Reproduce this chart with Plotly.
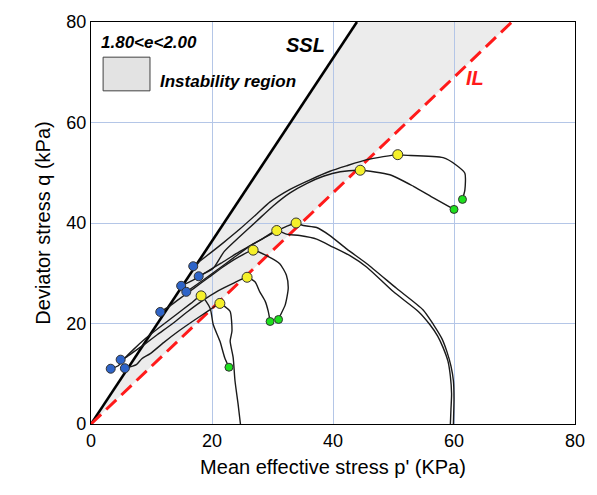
import plotly.graph_objects as go

# ---------------- data ----------------
SSL_SLOPE = 1.82   # q/p of steady state line
IL_SLOPE = 1.15    # q/p of instability line

# stress paths: mean effective stress p' (kPa) and deviator stress q (kPa)
path1_p = [24.7, 24.3, 23.8, 23.5, 23.0, 23.3, 23.0, 22.1, 21.3, 19.5, 17.0, 14.5, 12.0, 9.8, 8.4, 7.5, 5.6]
path1_q = [0.0, 4.1, 8.6, 13.2, 16.5, 18.5, 22.4, 23.4, 24.0, 22.6, 20.6, 18.5, 16.2, 14.0, 13.0, 11.8, 11.1]

path2_p = [22.8, 22.1, 21.3, 20.2, 19.7, 18.2, 16.5, 14.0, 11.5, 9.0, 7.0, 5.5, 4.5, 3.26]
path2_q = [11.3, 13.2, 16.5, 19.8, 23.0, 25.5, 24.0, 21.7, 19.4, 17.0, 14.8, 13.0, 11.6, 11.0]

path3_p = [29.6, 29.3, 28.8, 27.9, 27.1, 25.8, 23.5, 21.0, 18.5, 16.0, 13.5, 11.0, 9.0, 7.0, 5.8, 4.9]
path3_q = [20.4, 22.4, 24.4, 26.3, 28.3, 29.2, 28.0, 26.5, 24.6, 22.4, 20.0, 17.8, 16.0, 14.3, 13.3, 12.8]

path4_p = [31.0, 31.2, 32.1, 32.6, 32.3, 31.2, 29.0, 26.8, 24.5, 22.0, 19.5, 17.0, 14.5, 12.8, 11.45]
path4_q = [20.8, 21.4, 23.7, 27.0, 29.6, 31.9, 33.5, 34.6, 33.3, 31.4, 29.2, 27.0, 24.8, 23.3, 22.3]

path5_p = [59.4, 59.5, 59.6, 59.4, 59.0, 58.2, 57.3, 56.0, 54.1, 50.0, 45.6, 42.8, 40.0, 37.3, 34.5,
           32.3, 30.7, 28.5, 26.0, 23.5, 21.0, 18.5, 15.75]
path5_q = [0.0, 3.0, 6.0, 9.5, 12.5, 15.2, 17.5, 19.8, 22.4, 26.3, 31.2, 33.5, 35.2, 36.8, 37.5,
           37.8, 38.5, 37.0, 35.2, 33.0, 30.8, 28.6, 26.3]

path6_p = [59.9, 60.0, 59.9, 59.5, 58.8, 58.0, 56.6, 54.9, 50.5, 45.6, 42.3, 39.5, 37.3, 35.1, 33.9,
           31.5, 29.0, 26.5, 24.0, 21.5, 19.0, 16.8, 14.9]
path6_q = [0.0, 5.0, 8.6, 11.5, 14.5, 17.0, 19.8, 22.7, 27.0, 31.9, 34.8, 37.5, 39.1, 39.5, 40.0,
           38.9, 37.3, 35.6, 33.9, 32.0, 30.2, 28.6, 27.5]

path7_p = [60.0, 56.6, 53.3, 49.4, 44.5, 41.2, 38.4, 35.7, 32.9, 30.1, 27.4, 24.6, 22.0, 20.2, 17.8]
path7_q = [42.7, 45.0, 47.3, 49.6, 50.5, 50.2, 49.3, 47.9, 46.0, 43.4, 40.4, 37.3, 34.3, 31.0, 29.4]

path8_p = [61.4, 61.8, 61.8, 60.4, 58.2, 51.6, 50.7, 48.3, 45.6, 42.3, 39.5, 36.2, 32.9, 29.6, 27.4, 24.6, 21.9, 19.7, 16.9]
path8_q = [44.7, 46.6, 49.9, 51.5, 53.0, 53.5, 53.6, 53.2, 52.6, 51.4, 50.3, 48.6, 46.7, 44.2, 41.8, 38.8, 36.1, 34.0, 31.4]

# end points of the paths (blue), instability onset (yellow), initial states (green)
blue_p = [3.26, 4.9, 5.6, 11.45, 14.9, 15.75, 16.9, 17.8]
blue_q = [11.0, 12.8, 11.1, 22.3, 27.5, 26.3, 31.4, 29.4]
yellow_p = [21.3, 18.2, 25.8, 26.8, 30.7, 33.9, 44.5, 50.7]
yellow_q = [24.0, 25.5, 29.2, 34.6, 38.5, 40.0, 50.5, 53.6]
green_p = [22.8, 29.6, 31.0, 60.0, 61.4]
green_q = [11.3, 20.4, 20.8, 42.7, 44.7]

x_ticks = [0, 20, 40, 60, 80]
y_ticks = [0, 20, 40, 60, 80]
AX_MAX = 80

# ---------------- figure ----------------
FONT = "Liberation Sans, Arial, sans-serif"
fig = go.Figure()

# SSL and IL lines
fig.add_trace(go.Scatter(x=[0, AX_MAX / SSL_SLOPE], y=[0, AX_MAX], mode="lines",
                         line=dict(color="black", width=2.6), hoverinfo="skip"))
fig.add_trace(go.Scatter(x=[0, AX_MAX / IL_SLOPE], y=[0, AX_MAX], mode="lines",
                         line=dict(color="#ff1a1a", width=3, dash="14px,7px"), hoverinfo="skip"))

paths = [(path1_p, path1_q), (path2_p, path2_q), (path3_p, path3_q), (path4_p, path4_q),
         (path5_p, path5_q), (path6_p, path6_q), (path7_p, path7_q), (path8_p, path8_q)]
for pp, qq in paths:
    fig.add_trace(go.Scatter(x=pp, y=qq, mode="lines",
                             line=dict(color="#1a1a1a", width=1.4, shape="spline", smoothing=0.6),
                             hoverinfo="skip"))

mk_line = dict(color="#333333", width=1)
fig.add_trace(go.Scatter(x=blue_p, y=blue_q, mode="markers",
                         marker=dict(size=9, color="#2e64c8", line=mk_line)))
fig.add_trace(go.Scatter(x=yellow_p, y=yellow_q, mode="markers",
                         marker=dict(size=10, color="#f5f02a", line=mk_line)))
fig.add_trace(go.Scatter(x=green_p, y=green_q, mode="markers",
                         marker=dict(size=8, color="#1ee01e", line=mk_line)))

# instability region (below gridlines)
fig.add_shape(type="path", xref="x", yref="y", layer="below",
              path=f"M 0,0 L {AX_MAX / SSL_SLOPE},{AX_MAX} L {AX_MAX / IL_SLOPE},{AX_MAX} Z",
              fillcolor="#ececec", line=dict(width=0))

# legend box
fig.add_shape(type="rect", xref="x", yref="y", x0=2.0, x1=9.75, y0=66.3, y1=73.0,
              fillcolor="#e3e3e3", line=dict(color="#404040", width=1))

bi = dict(family=FONT, size=17, color="black", weight="bold", style="italic")
fig.add_annotation(x=1.3, y=76.0, xref="x", yref="y", text="1.80<e<2.00",
                   showarrow=False, xanchor="left", font=bi)
fig.add_annotation(x=11.1, y=68.2, xref="x", yref="y", text="Instability region",
                   showarrow=False, xanchor="left", font=bi)
fig.add_annotation(x=35.4, y=75.4, xref="x", yref="y", text="SSL",
                   showarrow=False, font=dict(family=FONT, size=20, color="black", weight="bold", style="italic"))
fig.add_annotation(x=63.5, y=68.8, xref="x", yref="y", text="IL",
                   showarrow=False, font=dict(family=FONT, size=20, color="#ff1a1a", weight="bold", style="italic"))

axis_common = dict(range=[0, AX_MAX], showgrid=True, gridcolor="#b4c6e7", gridwidth=1,
                   showline=True, linecolor="black", linewidth=1.3, mirror=True,
                   zeroline=False, ticks="", tickfont=dict(family=FONT, size=18, color="black"))

fig.update_layout(
    width=597, height=495,
    margin=dict(l=91, r=22, t=17, b=71),
    paper_bgcolor="white", plot_bgcolor="white",
    showlegend=False,
    xaxis=dict(**axis_common, tickvals=x_ticks,
               title=dict(text="Mean effective stress p' (KPa)",
                          font=dict(family=FONT, size=20, color="black"), standoff=10)),
    yaxis=dict(**axis_common, tickvals=y_ticks,
               title=dict(text="Deviator stress q (kPa)",
                          font=dict(family=FONT, size=20, color="black"), standoff=10)),
)

fig.write_html("out.html")
